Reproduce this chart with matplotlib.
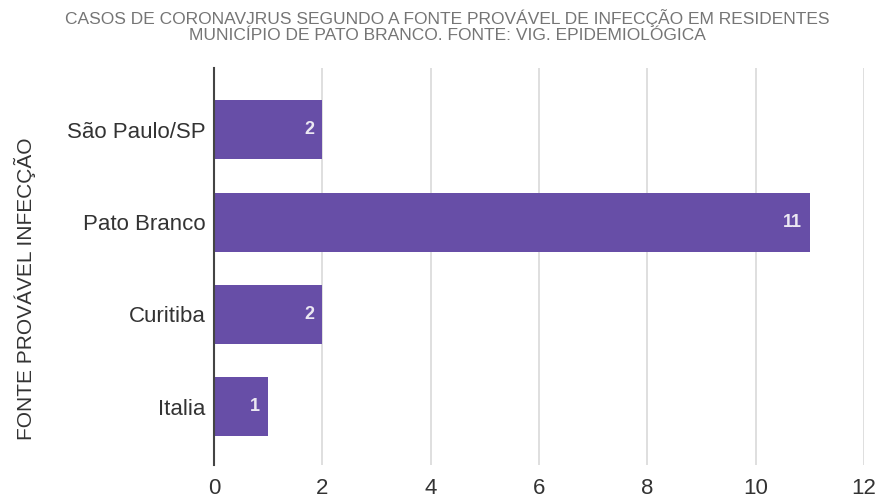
import matplotlib.pyplot as plt
import numpy as np

plt.rcParams['font.family'] = ['Liberation Sans', 'DejaVu Sans']

# data, bottom to top
origem = ['Italia', 'Curitiba', 'Pato Branco', 'São Paulo/SP']
casos = [1, 2, 11, 2]

titulo = ('CASOS DE CORONAVJRUS SEGUNDO A FONTE PROVÁVEL DE INFECÇÃO EM RESIDENTES\n'
          'MUNICÍPIO DE PATO BRANCO. FONTE: VIG. EPIDEMIOLÓGICA')

fig = plt.figure(figsize=(8.77, 4.99), dpi=100)
ax = fig.add_axes([0.244, 0.068, 0.741, 0.796])

y = np.arange(len(origem))
bars = ax.barh(y, casos, height=0.64, color='#674ea7', zorder=3)

for rect, v in zip(bars, casos):
    ax.text(rect.get_width() - 0.15, rect.get_y() + rect.get_height() / 2, str(v),
            ha='right', va='center', color='#ebe8f2', fontsize=13, fontweight='bold', zorder=4)

ax.set_xlim(0, 12)
ax.set_ylim(-0.63, 3.67)
ax.set_xticks(range(0, 13, 2))
ax.set_yticks(y)
ax.set_yticklabels(origem)
ax.tick_params(axis='both', length=0, labelsize=16, labelcolor='#333333')
ax.tick_params(axis='x', pad=9)
ax.tick_params(axis='y', pad=6)
ax.xaxis.grid(True, color='#d9d9d9', linewidth=1.2, zorder=0)
for s in ['top', 'right', 'bottom']:
    ax.spines[s].set_visible(False)
ax.spines['left'].set_color('#444444')
ax.spines['left'].set_linewidth(1.5)
ax.spines['left'].set_zorder(5)

fig.text(25 / 877, 0.421, 'FONTE PROVÁVEL INFECÇÃO', rotation=90, ha='center', va='center',
         fontsize=15, color='#333333')

fig.text(0.51, 0.982, titulo, ha='center', va='top', fontsize=12.5, color='#757575',
         linespacing=1.1)

fig.savefig('out.png', dpi=100)
